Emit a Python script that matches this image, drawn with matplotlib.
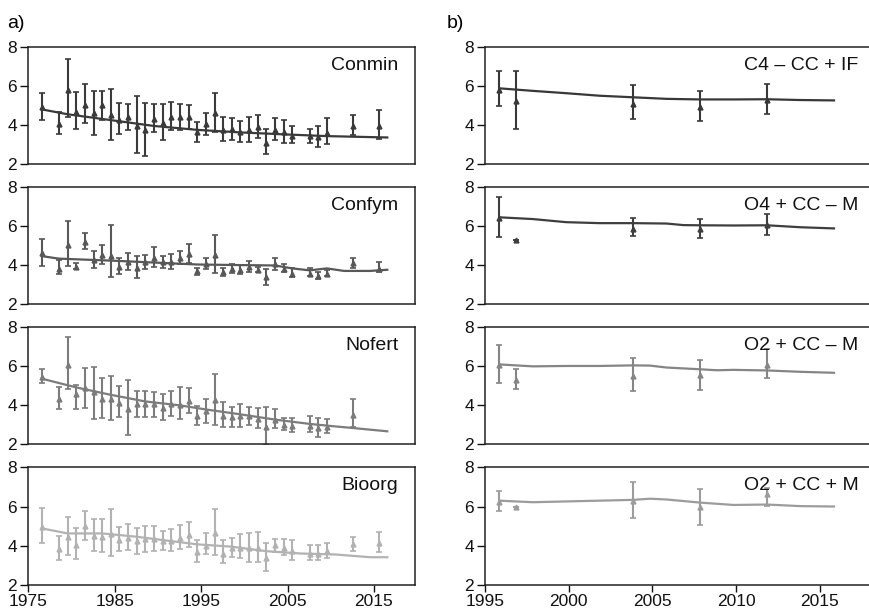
import numpy as np
from matplotlib import pyplot as plt

plt.rcParams['font.family'] = ['Liberation Sans', 'DejaVu Sans']

# ---- left column (a): long-term treatments ----
years_a = [1977, 1979, 1980, 1981, 1982, 1983, 1984, 1985, 1986, 1987, 1988,
           1989, 1990, 1991, 1992, 1993, 1994, 1995, 1996, 1997, 1998, 1999,
           2000, 2001, 2002, 2003, 2004, 2005, 2006, 2008, 2009, 2010, 2013, 2016]

conmin_mean = [4.90, 4.03, 5.78, 4.68, 5.03, 4.62, 5.03, 4.49, 4.25, 4.39, 3.96,
               3.74, 4.30, 4.11, 4.39, 4.39, 4.42, 3.65, 4.03, 4.64, 3.76, 3.77,
               3.65, 3.74, 3.91, 3.09, 3.74, 3.62, 3.43, 3.43, 3.36, 3.60, 3.96, 3.96]
conmin_hi = [5.65, 4.68, 7.40, 5.67, 6.09, 5.75, 5.75, 5.87, 5.14, 5.07, 5.48,
             5.15, 5.10, 5.10, 5.17, 5.10, 5.05, 4.16, 4.61, 5.65, 4.39, 4.34,
             4.20, 4.39, 4.51, 3.82, 4.34, 4.25, 3.93, 3.81, 3.94, 4.34, 4.51, 4.76]
conmin_lo = [4.28, 3.52, 4.40, 3.81, 4.08, 3.47, 4.28, 3.23, 3.52, 3.74, 2.58,
             2.41, 3.65, 3.23, 3.74, 3.74, 3.81, 3.13, 3.50, 3.65, 3.16, 3.21,
             3.13, 3.13, 3.35, 2.49, 3.23, 3.06, 3.09, 3.06, 2.85, 3.00, 3.48, 3.28]

confym_mean = [4.64, 3.83, 5.07, 3.92, 5.21, 4.26, 4.52, 4.47, 3.92, 4.18, 3.89,
               4.18, 4.40, 4.18, 4.18, 4.40, 4.61, 3.71, 4.09, 4.52, 3.66, 3.83,
               3.78, 3.92, 3.78, 3.41, 4.09, 3.83, 3.58, 3.58, 3.46, 3.58, 4.13, 3.83]
confym_hi = [5.38, 4.26, 6.27, 4.13, 5.69, 4.74, 5.07, 6.06, 4.40, 4.64, 4.47,
             4.52, 4.95, 4.47, 4.57, 4.72, 5.12, 3.89, 4.40, 5.55, 3.89, 4.09,
             4.01, 4.21, 3.92, 3.83, 4.38, 4.09, 3.89, 3.89, 3.66, 3.78, 4.40, 4.18]
confym_lo = [3.97, 3.58, 3.97, 3.80, 4.83, 3.89, 4.09, 3.41, 3.58, 3.75, 3.37,
             3.83, 3.92, 3.89, 3.83, 4.09, 4.13, 3.49, 3.80, 3.61, 3.44, 3.61,
             3.58, 3.66, 3.66, 3.01, 3.78, 3.66, 3.41, 3.44, 3.29, 3.44, 3.89, 3.66]

years_nofert = years_a[:-1]
nofert_mean = [5.43, 4.33, 6.07, 4.56, 4.85, 4.64, 4.33, 4.33, 4.12, 3.81, 4.03,
               4.03, 4.03, 3.86, 4.03, 3.98, 4.21, 3.43, 3.69, 4.26, 3.46, 3.39,
               3.43, 3.43, 3.29, 2.87, 3.25, 2.96, 2.90, 2.90, 2.82, 2.87, 3.51]
nofert_hi = [5.86, 4.94, 7.46, 5.03, 5.90, 5.95, 5.37, 5.46, 4.96, 5.30, 4.73,
             4.73, 4.68, 4.56, 4.73, 4.90, 4.87, 3.95, 4.30, 5.60, 4.16, 3.91,
             4.03, 3.90, 3.86, 3.91, 3.77, 3.34, 3.34, 3.43, 3.34, 3.29, 4.30]
nofert_lo = [5.13, 3.77, 4.82, 3.77, 3.86, 3.30, 3.34, 3.25, 3.39, 2.47, 3.39,
             3.39, 3.39, 3.25, 3.46, 3.29, 3.60, 2.99, 3.08, 2.99, 2.87, 2.87,
             2.87, 2.99, 2.82, 1.95, 2.82, 2.73, 2.64, 2.59, 2.38, 2.56, 2.87]

bioorg_mean = [4.97, 3.82, 4.45, 4.02, 5.00, 4.50, 4.45, 4.57, 4.28, 4.40, 4.23,
               4.31, 4.33, 4.23, 4.23, 4.40, 4.54, 3.68, 3.99, 4.62, 3.59, 3.89,
               3.85, 3.85, 3.85, 3.34, 4.02, 3.85, 3.71, 3.59, 3.59, 3.71, 4.06, 4.11]
bioorg_hi = [5.94, 4.50, 5.48, 4.88, 5.77, 5.36, 5.36, 5.86, 4.97, 5.09, 4.88,
             5.02, 5.02, 4.74, 4.85, 5.05, 5.22, 4.28, 4.62, 5.86, 4.28, 4.37,
             4.57, 4.62, 4.67, 4.11, 4.33, 4.31, 4.28, 4.02, 4.02, 4.11, 4.45, 4.67]
bioorg_lo = [4.14, 3.25, 3.51, 3.29, 4.28, 3.71, 3.68, 3.46, 3.71, 3.77, 3.59,
             3.65, 3.71, 3.77, 3.71, 3.82, 3.94, 3.17, 3.56, 3.51, 3.08, 3.42,
             3.34, 3.17, 3.17, 2.69, 3.65, 3.51, 3.25, 3.25, 3.25, 3.37, 3.71, 3.65]

# fitted trend lines (left)
conmin_fit_x = [1977, 1980, 1985, 1990, 1995, 2000, 2005, 2010, 2017]
conmin_fit_y = [4.80, 4.55, 4.25, 3.95, 3.75, 3.62, 3.52, 3.43, 3.36]
confym_fit_x = [1977, 1979, 1985, 1990, 1995, 2000, 2004, 2006, 2008, 2010, 2012, 2015, 2017]
confym_fit_y = [4.48, 4.35, 4.25, 4.15, 4.05, 4.02, 4.00, 3.85, 3.75, 3.85, 3.72, 3.72, 3.78]
nofert_fit_x = [1977, 1981, 1985, 1989, 1993, 1996, 2000, 2004, 2008, 2011, 2013, 2017]
nofert_fit_y = [5.35, 4.90, 4.52, 4.18, 3.98, 3.77, 3.52, 3.25, 3.03, 2.90, 2.82, 2.65]
bioorg_fit_x = [1977, 1980, 1984, 1988, 1991, 1995, 1999, 2003, 2007, 2011, 2015, 2017]
bioorg_fit_y = [4.88, 4.62, 4.62, 4.45, 4.28, 4.06, 3.94, 3.71, 3.59, 3.54, 3.40, 3.40]

# ---- right column (b) ----
years_b = [1996, 1997, 2004, 2008, 2012]

c4_mean = [5.79, 5.23, 5.08, 4.94, 5.28]
c4_hi = [6.76, 6.78, 6.05, 5.74, 6.10]
c4_lo = [4.97, 3.80, 4.29, 4.18, 4.55]

o4m_mean = [6.41, 5.31, 5.89, 5.86, 6.07]
o4m_hi = [7.49, 5.31, 6.42, 6.37, 6.63]
o4m_lo = [5.46, 5.31, 5.51, 5.39, 5.57]

o2m_mean = [6.03, 5.29, 5.51, 5.55, 6.06]
o2m_hi = [7.06, 5.82, 6.42, 6.32, 6.85]
o2m_lo = [5.14, 4.83, 4.71, 4.79, 5.38]

o2p_mean = [6.23, 5.95, 6.30, 5.95, 6.62]
o2p_hi = [6.82, 5.95, 7.25, 6.91, 6.97]
o2p_lo = [5.75, 5.95, 5.41, 5.07, 6.03]

c4_fit_x = [1996, 1998, 2000, 2002, 2004, 2006, 2008, 2010, 2012, 2014, 2016]
c4_fit_y = [5.88, 5.75, 5.63, 5.50, 5.42, 5.34, 5.31, 5.31, 5.32, 5.28, 5.26]
o4m_fit_x = [1996, 1998, 2000, 2002, 2004, 2006, 2007, 2008, 2010, 2012, 2014, 2016]
o4m_fit_y = [6.47, 6.38, 6.22, 6.17, 6.17, 6.15, 6.07, 6.06, 6.05, 6.06, 5.96, 5.90]
o2m_fit_x = [1996, 1998, 2000, 2002, 2004, 2005, 2006, 2008, 2009, 2010, 2012, 2014, 2016]
o2m_fit_y = [6.08, 5.98, 6.00, 6.00, 6.03, 6.02, 5.92, 5.83, 5.78, 5.80, 5.77, 5.70, 5.65]
o2p_fit_x = [1996, 1998, 2000, 2002, 2004, 2005, 2006, 2008, 2010, 2012, 2014, 2016]
o2p_fit_y = [6.30, 6.22, 6.26, 6.30, 6.34, 6.40, 6.36, 6.20, 6.08, 6.10, 6.02, 6.00]

left_panels = [
    ("Conmin", years_a, conmin_mean, conmin_lo, conmin_hi, conmin_fit_x, conmin_fit_y, "#3a3a3a"),
    ("Confym", years_a, confym_mean, confym_lo, confym_hi, confym_fit_x, confym_fit_y, "#585858"),
    ("Nofert", years_nofert, nofert_mean, nofert_lo, nofert_hi, nofert_fit_x, nofert_fit_y, "#7c7c7c"),
    ("Bioorg", years_a, bioorg_mean, bioorg_lo, bioorg_hi, bioorg_fit_x, bioorg_fit_y, "#b2b2b2"),
]
right_panels = [
    ("C4 – CC + IF", years_b, c4_mean, c4_lo, c4_hi, c4_fit_x, c4_fit_y, "#383838"),
    ("O4 + CC – M", years_b, o4m_mean, o4m_lo, o4m_hi, o4m_fit_x, o4m_fit_y, "#3e3e3e"),
    ("O2 + CC – M", years_b, o2m_mean, o2m_lo, o2m_hi, o2m_fit_x, o2m_fit_y, "#858585"),
    ("O2 + CC + M", years_b, o2p_mean, o2p_lo, o2p_hi, o2p_fit_x, o2p_fit_y, "#9c9c9c"),
]


def draw_panel(ax, panel, shift, xlim, xticks, bottom):
    name, yrs, mean, lo, hi, fx, fy, color = panel
    x = np.array(yrs) - shift
    mean = np.array(mean)
    yerr = [mean - np.array(lo), np.array(hi) - mean]
    ax.errorbar(x, mean, yerr=yerr, fmt='^', ms=3.5, color=color,
                ecolor=color, elinewidth=1.5, capsize=2.5, capthick=1.2)
    ax.plot(np.array(fx) - shift, fy, color=color, lw=1.6)
    ax.set_xlim(*xlim)
    ax.set_ylim(2, 8)
    ax.set_yticks([2, 4, 6, 8])
    ax.text(0.958, 0.915, name, transform=ax.transAxes, ha='right', va='top',
            fontsize=14, color='#111111')
    for s in ax.spines.values():
        s.set_linewidth(1.1)
        s.set_color('#222222')
    ax.tick_params(axis='y', length=6, width=1, pad=2, labelsize=12.5, colors='#111111')
    if bottom:
        ax.set_xticks(xticks)
        ax.tick_params(axis='x', length=5, width=1, pad=2, labelsize=12.5, colors='#111111')
    else:
        ax.set_xticks([])


figure = plt.figure(figsize=(8.69, 6.14), dpi=100)

bottoms = [0.7329, 0.5041, 0.2769, 0.0480]
height = 0.1906

for i, panel in enumerate(left_panels):
    ax = figure.add_axes([0.0326, bottoms[i], 0.4444, height])
    draw_panel(ax, panel, 0.45, (1975, 2019.7), [1975, 1985, 1995, 2005, 2015], i == 3)

for i, panel in enumerate(right_panels):
    ax = figure.add_axes([0.5581, bottoms[i], 0.4488, height])
    draw_panel(ax, panel, 0.15, (1995, 2018.3), [1995, 2000, 2005, 2010, 2015], i == 3)

figure.text(0.008, 0.962, "a)", fontsize=14, va='center', ha='left')
figure.text(0.514, 0.962, "b)", fontsize=14, va='center', ha='left')

figure.savefig("out.png", dpi=100)
